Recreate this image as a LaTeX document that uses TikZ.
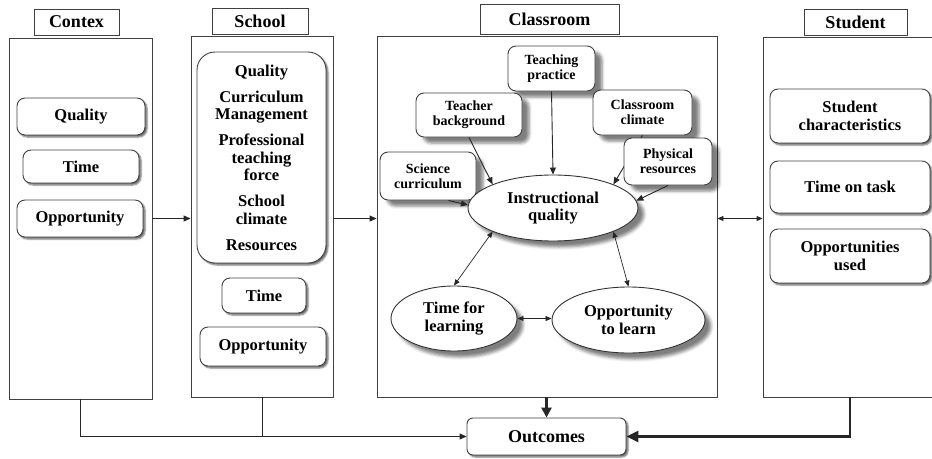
\documentclass[tikz,border=0pt]{standalone}
\usepackage{fontspec}
\setmainfont{Liberation Serif}
\usetikzlibrary{arrows.meta,shapes.geometric,shadows.blur}

\begin{document}
\begin{tikzpicture}[x=1pt,y=-1pt,
    font=\bfseries\fontsize{16.5}{17.5}\selectfont,
    line width=0.9pt, draw=black!85,
    panel/.style={draw=black!75, inner sep=0pt},
    header/.style={draw=black!75, fill=white, inner sep=0pt, font=\bfseries\fontsize{18}{19}\selectfont},
    item/.style={draw=black!75, fill=white, rounded corners=8pt, align=center, inner sep=0pt,
        blur shadow={shadow xshift=2pt, shadow yshift=-2pt, shadow blur radius=1.5pt, shadow opacity=60}},
    factor/.style={draw=black!75, fill=white, rounded corners=8pt, align=center, inner sep=0pt,
        font=\bfseries\fontsize{14}{15}\selectfont,
        blur shadow={shadow xshift=7pt, shadow yshift=-6pt, shadow blur radius=3pt, shadow opacity=50}},
    bubble/.style={ellipse, draw=black!80, fill=white, align=center, inner sep=0pt,
        blur shadow={shadow xshift=6pt, shadow yshift=-6pt, shadow blur radius=3pt, shadow opacity=50}},
    link/.style={-{Triangle[length=7pt,width=6pt]}},
    both/.style={{Triangle[length=6pt,width=5pt]}-{Triangle[length=6pt,width=5pt]}, line width=0.7pt},
    heavy/.style={line width=2.6pt}]
    \useasboundingbox (0,0) rectangle (932,458);

    % Column headers
    \node[header, minimum width=85pt, minimum height=26pt] (contexh) at (76.5,22) {Contex};
    \node[header, minimum width=96pt, minimum height=26pt] (schoolh) at (260,21) {School};
    \node[header, minimum width=139pt, minimum height=30pt] (classh) at (549.5,19) {Classroom};
    \node[header, minimum width=103pt, minimum height=26pt] (studenth) at (855.5,22) {Student};

    % Panels
    \node[panel, minimum width=143pt, minimum height=361pt] (contex) at (80.5,218.5) {};
    \node[panel, minimum width=142pt, minimum height=361pt] (school) at (262,216.5) {};
    \node[panel, minimum width=340pt, minimum height=361pt] (classroom) at (547,216.5) {};
    \node[panel, minimum width=187pt, minimum height=360pt] (student) at (856.5,217) {};

    % Contex level
    \node[item, minimum width=128pt, minimum height=37pt] (cq) at (81,116.5) {Quality};
    \node[item, minimum width=116pt, minimum height=33pt] (ct) at (81,166.5) {Time};
    \node[item, minimum width=126pt, minimum height=37pt] (co) at (80,218.5) {Opportunity};

    % School level
    \node[item, rounded corners=18pt, minimum width=129pt, minimum height=211pt] (sq) at (261.5,157.5)
        {Quality\\[8.5pt] Curriculum\\ Management\\[8.5pt] Professional\\ teaching\\ force\\[8.5pt]
         School\\ climate\\[8.5pt] Resources};
    \node[item, minimum width=84pt, minimum height=35pt] (st) at (264,295.5) {Time};
    \node[item, minimum width=126pt, minimum height=39pt] (so) at (263,346.5) {Opportunity};

    % Classroom level
    \node[factor, minimum width=87pt, minimum height=45pt] (tp) at (551.5,68.5) {Teaching\\ practice};
    \node[factor, minimum width=106pt, minimum height=44pt] (tb) at (469,115) {Teacher\\ background};
    \node[factor, minimum width=99pt, minimum height=45pt] (cc) at (642.5,112.5) {Classroom\\ climate};
    \node[factor, minimum width=96pt, minimum height=48pt] (sc) at (428,176) {Science\\ curriculum};
    \node[bubble, minimum width=170pt, minimum height=66pt] (iq) at (553,208) {Instructional\\ quality};
    \node[bubble, minimum width=126pt, minimum height=65pt] (tfl) at (454,318.5) {Time for\\ learning};
    \node[bubble, minimum width=153pt, minimum height=66pt] (otl) at (628.5,320) {Opportunity\\ to learn};
    % climate arrow runs behind physical resources
    \draw[link] (cc.south) -- (iq.north east);
    \node[factor, minimum width=88pt, minimum height=47pt] (pr) at (668,161.5) {Physical\\ resources};

    % Student level
    \node[item, minimum width=160pt, minimum height=54pt] (chr) at (850,116) {Student\\ characteristics};
    \node[item, minimum width=160pt, minimum height=52pt] (tot) at (850,187) {Time on task};
    \node[item, minimum width=160pt, minimum height=54pt] (opu) at (850,256) {Opportunities\\ used};

    % Outcomes
    \node[item, rounded corners=6pt, minimum width=159pt, minimum height=37pt,
        font=\bfseries\fontsize{18}{19}\selectfont] (out) at (546.5,436.5) {Outcomes};

    % Links between levels
    \draw[link] (co -| contex.east) -- (co -| school.west);
    \draw[link] (co -| school.east) -- (co -| classroom.west);
    \draw[both, line width=0.9pt] (co -| classroom.east) -- (co -| student.west);

    % Links inside the classroom
    \draw[link] (tp.south) -- (iq.north);
    \draw[link] (tb.south) -- (iq.north west);
    \draw[link] (pr.south) -- (iq.5);
    \draw[link] (sc.-50) -- (iq.178);
    \draw[both] (iq.south west) -- (tfl.north);
    \draw[both] (iq.south east) -- (otl.north);
    \draw[both] (tfl.east) -- (tfl.east -| otl.west);

    % Links to outcomes
    \draw[heavy, -{Triangle[length=10pt,width=10pt]}] (out.north |- classroom.south) -- (out.north);
    \draw[link] (contex.south) -- (contex.south |- out.west) -- (out.west);
    \draw (school.south) -- (school.south |- out.west);
    \draw[heavy, -{Triangle[length=12pt,width=11pt]}] (chr |- student.south) -- (chr |- out.east) -- (out.east);
\end{tikzpicture}
\end{document}
